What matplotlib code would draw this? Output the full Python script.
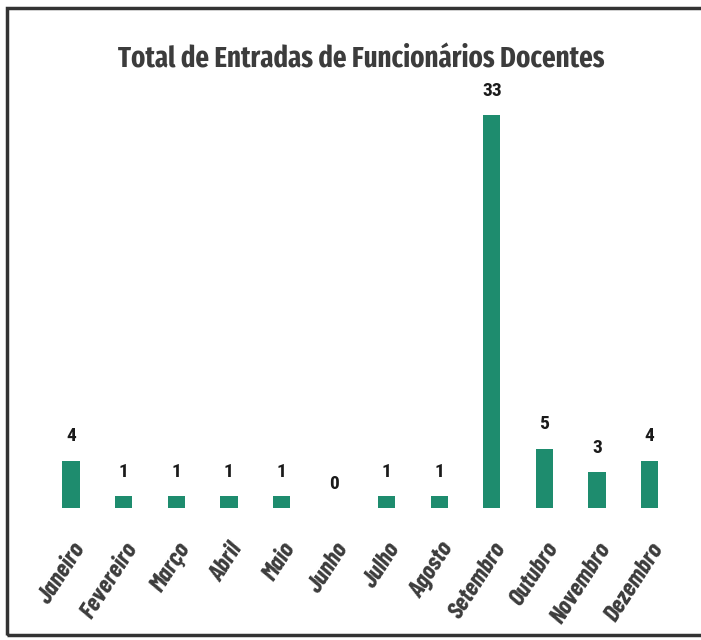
import matplotlib
matplotlib.use("Agg")
import matplotlib.pyplot as plt
from matplotlib.patches import Rectangle

months = ["Janeiro", "Fevereiro", "Março", "Abril", "Maio", "Junho",
          "Julho", "Agosto", "Setembro", "Outubro", "Novembro", "Dezembro"]
values = [4, 1, 1, 1, 1, 0, 1, 1, 33, 5, 3, 4]
title = "Total de Entradas de Funcionários Docentes"

FAM = ["Roboto Condensed", "Asap Condensed", "DejaVu Sans"]
TFAM = ["Fira Sans Extra Condensed", "Barlow Condensed", "Roboto Condensed", "DejaVu Sans"]
LFAM = ["Barlow Condensed", "Roboto Condensed", "DejaVu Sans"]

fig = plt.figure(figsize=(7.01, 6.40), dpi=100)
ax = fig.add_axes([0.064, 0.206, 0.900, 0.614])
x = list(range(len(months)))
ax.bar(x, values, width=0.33, color="#1e8c6e")
ax.set_xlim(-0.5, len(months) - 0.5)
ax.set_ylim(0, 33)
for xi, v in zip(x, values):
    ax.text(xi, v + 1.3, str(v), ha="center", va="bottom",
            fontsize=14, family=FAM, fontweight="bold", color="#1a1a1a")
ax.set_xticks(x)
labels = ax.set_xticklabels(months, rotation=57, ha="right", rotation_mode="anchor",
                            fontsize=13, fontweight="bold", style="italic",
                            family=LFAM, color="#3c3c3c")
ax.tick_params(axis="x", length=0, pad=22)
ax.set_yticks([])
for s in ax.spines.values():
    s.set_visible(False)

t = fig.text(0.515, 0.906, title, ha="center", va="center", fontsize=30,
             fontweight="bold", family=TFAM, color="#3c3c3c")

renderer = fig.canvas.get_renderer()
w = t.get_window_extent(renderer).width
t.set_fontsize(30 * 487.0 / w)

# fit month label size so "Setembro" is ~86 px long
lab = labels[8]
lab.set_rotation(0)
lw = lab.get_window_extent(renderer).width
lab.set_rotation(57)
fs = 13 * 86.0 / lw
for l in labels:
    l.set_fontsize(fs)

fig.patches.append(Rectangle((0.010, 0.008), 1.2, 0.980, transform=fig.transFigure,
                             fill=False, edgecolor="#333333", linewidth=2.5))
fig.savefig("out.png", dpi=100, facecolor="white")
